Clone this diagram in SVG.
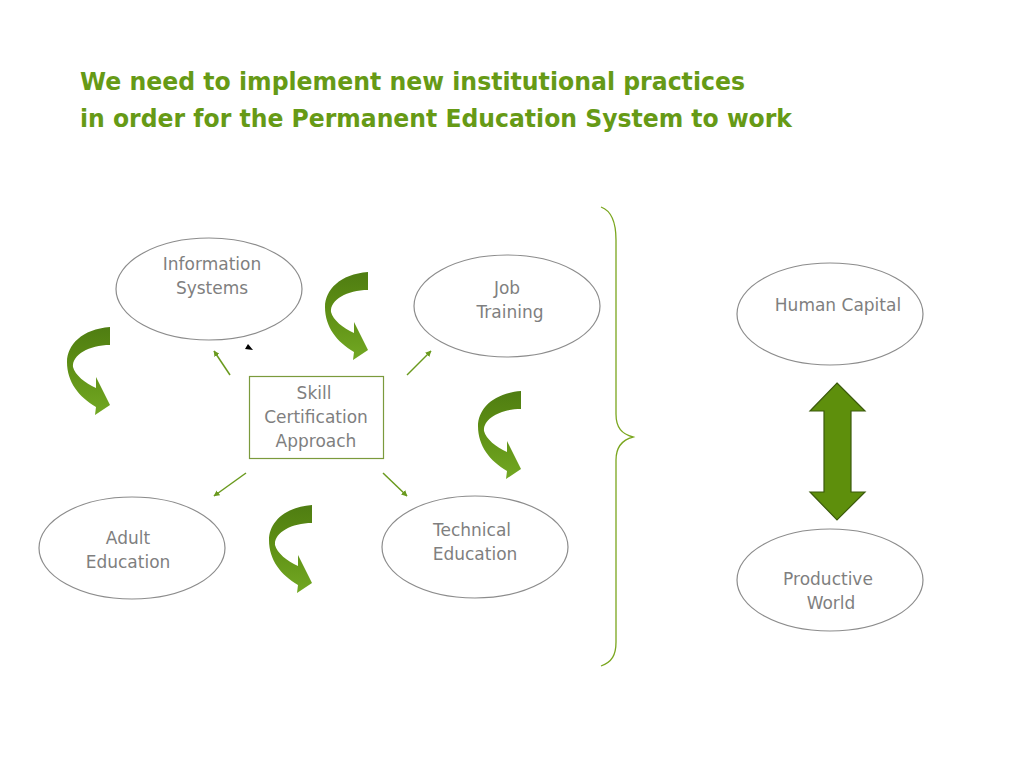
<svg xmlns="http://www.w3.org/2000/svg" width="1024" height="768" viewBox="0 0 1024 768">
<style>
.title{font-family:"DejaVu Sans",sans-serif;font-weight:bold;font-size:25px;fill:#669a16}
.lbl{font-family:"DejaVu Sans",sans-serif;font-size:17px;fill:#7f7f7f;text-anchor:middle}
.ell{fill:#fff;stroke:#8c8c8c;stroke-width:1.2}
.con{stroke:#6a9a1e;stroke-width:1.5;fill:none}
</style>
<defs>
<linearGradient id="cg" x1="0" y1="0" x2="0" y2="1">
<stop offset="0" stop-color="#4f7d12"/>
<stop offset="0.45" stop-color="#5e8f14"/>
<stop offset="1" stop-color="#72a823"/>
</linearGradient>
<path id="curl" d="M43,0 C15,2 0,18 0,35 C0,55 12,70 29,80 L28,88 L43,78 L29,50 L29,61 C18,56 8,48 6,40 C5,28 22,18 43,18 Z" fill="url(#cg)"/>
<marker id="ah" viewBox="0 0 10 10" refX="9" refY="5" markerWidth="6" markerHeight="6" orient="auto" markerUnits="userSpaceOnUse">
<path d="M0,0 L10,5 L0,10 Z" fill="#6a9a1e"/>
</marker>
</defs>
<rect width="1024" height="768" fill="#fff"/>
<text class="title" x="80" y="90" textLength="665" lengthAdjust="spacingAndGlyphs">We need to implement new institutional practices</text>
<text class="title" x="80" y="127" textLength="712" lengthAdjust="spacingAndGlyphs">in order for the Permanent Education System to work</text>

<g id="curls">
<use href="#curl" transform="translate(67,327)"/>
<use href="#curl" transform="translate(325,272)"/>
<use href="#curl" transform="translate(269,505)"/>
<use href="#curl" transform="translate(478,391)"/>
</g>

<g id="info"><ellipse class="ell" cx="209" cy="289" rx="93" ry="51"/><text class="lbl" x="212" y="270">Information</text><text class="lbl" x="212" y="294">Systems</text></g>
<g id="job"><ellipse class="ell" cx="507" cy="306" rx="93" ry="51"/><text class="lbl" x="507" y="294">Job</text><text class="lbl" x="510" y="318">Training</text></g>
<g id="adult"><ellipse class="ell" cx="132" cy="548" rx="93" ry="51"/><text class="lbl" x="128" y="544">Adult</text><text class="lbl" x="128" y="568">Education</text></g>
<g id="tech"><ellipse class="ell" cx="475" cy="547" rx="93" ry="51"/><text class="lbl" x="472" y="536">Technical</text><text class="lbl" x="475" y="560">Education</text></g>
<g id="skill"><rect x="249.5" y="376.5" width="134" height="82" fill="#fff" stroke="#7b9a3c" stroke-width="1.2"/><text class="lbl" x="314" y="399">Skill</text><text class="lbl" x="316" y="423">Certification</text><text class="lbl" x="316" y="447">Approach</text></g>
<g id="human"><ellipse class="ell" cx="830" cy="314" rx="93" ry="51"/><text class="lbl" x="838" y="311">Human Capital</text></g>
<g id="world"><ellipse class="ell" cx="830" cy="580" rx="93" ry="51"/><text class="lbl" x="828" y="585">Productive</text><text class="lbl" x="831" y="609">World</text></g>

<g id="connectors">
<line class="con" x1="230" y1="375" x2="214" y2="351" marker-end="url(#ah)"/>
<line class="con" x1="407" y1="375" x2="431" y2="351" marker-end="url(#ah)"/>
<line class="con" x1="246" y1="473" x2="214" y2="496" marker-end="url(#ah)"/>
<line class="con" x1="383" y1="473" x2="407" y2="496" marker-end="url(#ah)"/>
<polygon points="245,349 253,350 248,344" fill="#000"/>
<path d="M601,207 C612,211 616,222 616,240 L616,414 C616,428 622,434 633,437 C622,440 616,447 616,460 L616,642 C616,655 612,662 601,666" fill="none" stroke="#7aa61e" stroke-width="1.3"/>
<polygon points="837,383 865,411 851,411 851,492 865,492 837,520 810,492 824,492 824,411 810,411" fill="#5e8f0c" stroke="#3b5a0c" stroke-width="1.2"/>
</g>
</svg>
